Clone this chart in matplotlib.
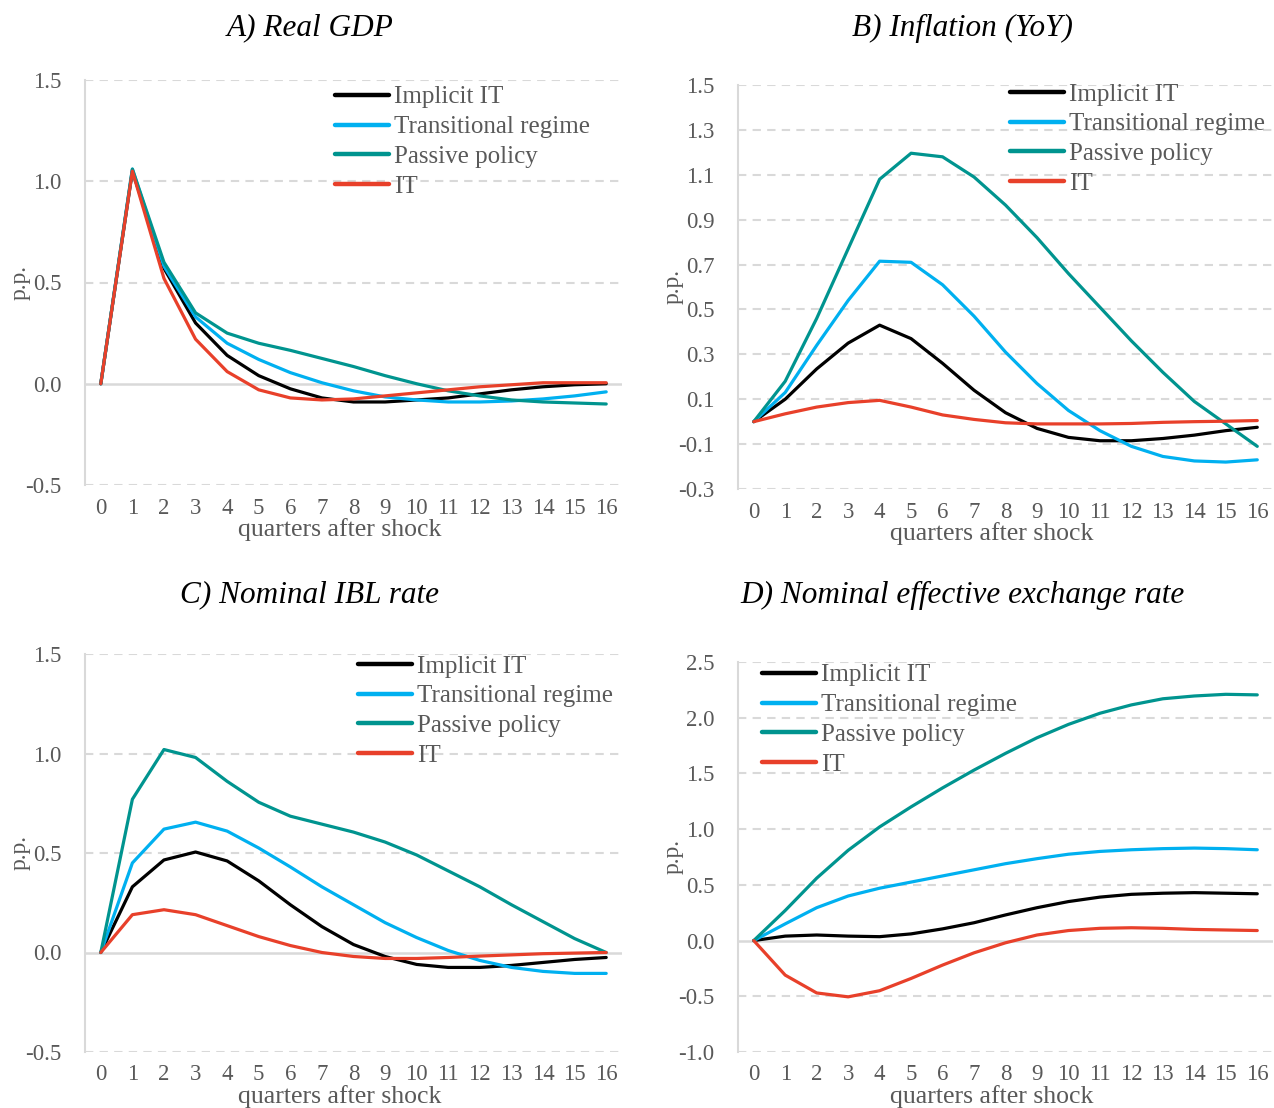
import matplotlib
matplotlib.use("Agg")
import matplotlib.pyplot as plt

plt.rcParams['font.family'] = ['Liberation Serif', 'DejaVu Serif']

W, H = 1274, 1108

quarters = list(range(17))
series_names = ['Implicit IT', 'Transitional regime', 'Passive policy', 'IT']
colors = ['#000000', '#00B0F0', '#00948F', '#E8402A']

# A) Real GDP
gdp_implicit = [0, 1.05, 0.57, 0.30, 0.14, 0.04, -0.025, -0.07, -0.09, -0.09, -0.08, -0.07, -0.05, -0.03, -0.015, -0.005, 0.0]
gdp_trans = [0, 1.06, 0.58, 0.33, 0.20, 0.12, 0.055, 0.005, -0.035, -0.065, -0.08, -0.09, -0.09, -0.085, -0.075, -0.06, -0.04]
gdp_passive = [0, 1.06, 0.60, 0.35, 0.25, 0.20, 0.165, 0.125, 0.085, 0.04, 0.0, -0.035, -0.06, -0.08, -0.09, -0.095, -0.10]
gdp_it = [0, 1.05, 0.52, 0.22, 0.06, -0.03, -0.07, -0.08, -0.075, -0.06, -0.045, -0.03, -0.015, -0.005, 0.005, 0.005, 0.005]

# B) Inflation (YoY)
inf_implicit = [0, 0.10, 0.235, 0.35, 0.43, 0.37, 0.26, 0.14, 0.04, -0.03, -0.07, -0.085, -0.085, -0.075, -0.06, -0.04, -0.025]
inf_trans = [0, 0.13, 0.34, 0.54, 0.715, 0.71, 0.61, 0.47, 0.31, 0.17, 0.05, -0.04, -0.11, -0.155, -0.175, -0.18, -0.17]
inf_passive = [0, 0.18, 0.46, 0.77, 1.08, 1.196, 1.18, 1.09, 0.965, 0.82, 0.66, 0.51, 0.36, 0.22, 0.09, -0.01, -0.11]
inf_it = [0, 0.035, 0.065, 0.085, 0.095, 0.065, 0.03, 0.01, -0.005, -0.01, -0.01, -0.01, -0.008, -0.003, 0.0, 0.002, 0.005]

# C) Nominal IBL rate
ibl_implicit = [0, 0.33, 0.465, 0.505, 0.46, 0.36, 0.24, 0.13, 0.04, -0.02, -0.06, -0.075, -0.075, -0.065, -0.05, -0.035, -0.025]
ibl_trans = [0, 0.45, 0.62, 0.655, 0.61, 0.525, 0.43, 0.33, 0.24, 0.15, 0.075, 0.01, -0.04, -0.075, -0.095, -0.105, -0.105]
ibl_passive = [0, 0.77, 1.02, 0.98, 0.86, 0.755, 0.685, 0.645, 0.605, 0.555, 0.49, 0.41, 0.33, 0.24, 0.155, 0.07, 0.0]
ibl_it = [0, 0.19, 0.215, 0.19, 0.135, 0.08, 0.035, 0.0, -0.02, -0.03, -0.03, -0.025, -0.018, -0.012, -0.006, -0.003, 0.0]

# D) Nominal effective exchange rate
fx_implicit = [0, 0.04, 0.05, 0.04, 0.035, 0.06, 0.105, 0.16, 0.23, 0.295, 0.35, 0.39, 0.415, 0.425, 0.43, 0.425, 0.42]
fx_trans = [0, 0.15, 0.295, 0.40, 0.47, 0.525, 0.58, 0.635, 0.69, 0.735, 0.775, 0.80, 0.815, 0.825, 0.83, 0.825, 0.815]
fx_passive = [0, 0.27, 0.56, 0.81, 1.02, 1.20, 1.37, 1.53, 1.68, 1.82, 1.94, 2.04, 2.115, 2.17, 2.195, 2.21, 2.205]
fx_it = [0, -0.31, -0.47, -0.505, -0.45, -0.34, -0.22, -0.11, -0.02, 0.05, 0.09, 0.11, 0.115, 0.11, 0.10, 0.095, 0.09]

panels = [
    dict(title='A) Real GDP', data=[gdp_implicit, gdp_trans, gdp_passive, gdp_it],
         box=(85, 80, 622, 485), ylim=(-0.5, 1.5), step=0.5, fmt='%.1f',
         tx=310, ty=28, leg=(335, 86)),
    dict(title='B) Inflation (YoY)', data=[inf_implicit, inf_trans, inf_passive, inf_it],
         box=(738, 85, 1273, 489), ylim=(-0.3, 1.5), step=0.2, fmt='%.1f',
         tx=962, ty=28, leg=(1010, 83)),
    dict(title='C) Nominal IBL rate', data=[ibl_implicit, ibl_trans, ibl_passive, ibl_it],
         box=(85, 654, 622, 1052), ylim=(-0.5, 1.5), step=0.5, fmt='%.1f',
         tx=310, ty=595, leg=(358, 655)),
    dict(title='D) Nominal effective exchange rate', data=[fx_implicit, fx_trans, fx_passive, fx_it],
         box=(738, 662, 1273, 1052), ylim=(-1.0, 2.5), step=0.5, fmt='%.1f',
         tx=962, ty=595, leg=(762, 664)),
]

fig = plt.figure(figsize=(W / 100, H / 100), dpi=100)
grey = '#595959'
grid_c = '#D9D9D9'

for p in panels:
    x0, y0, x1, y1 = p['box']
    ax = fig.add_axes([x0 / W, 1 - y1 / H, (x1 - x0) / W, (y1 - y0) / H])
    for vals, name, c in zip(p['data'], series_names, colors):
        ax.plot(quarters, vals, color=c, lw=2.3, label=name, solid_capstyle='round', zorder=3)
    lo, hi = p['ylim']
    n = int(round((hi - lo) / p['step']))
    ticks = [lo + i * p['step'] for i in range(n + 1)]
    ax.set_ylim(lo, hi)
    ax.set_xlim(-0.5, 16.5)
    ax.set_yticks(ticks)
    ax.set_yticklabels([p['fmt'] % t for t in ticks])
    ax.set_xticks(quarters)
    ax.set_xticklabels([str(q) for q in quarters])
    for t in ticks:
        if abs(t) < 1e-9:
            ax.axhline(0, color=grid_c, lw=1.8, zorder=1)
        else:
            ax.axhline(t, color=grid_c, lw=1.5, ls=(0, (4, 3)), zorder=1)
    for s in ['top', 'right', 'bottom']:
        ax.spines[s].set_visible(False)
    ax.spines['left'].set_color(grid_c)
    ax.spines['left'].set_linewidth(1.5)
    ax.tick_params(length=0, labelsize=16.5, colors=grey)
    ax.tick_params(axis='y', pad=17)
    ax.tick_params(axis='x', pad=9)
    lx, ly = p['leg']
    ax.legend(loc='upper left', bbox_to_anchor=((lx - x0) / (x1 - x0), (y1 - ly) / (y1 - y0)),
              frameon=False, fontsize=18, handlelength=2.15, handletextpad=0.2,
              labelspacing=0.29, borderpad=0, borderaxespad=0, labelcolor=grey)
    for line in ax.get_legend().get_lines():
        line.set_linewidth(3.2)
    fig.text(p['tx'] / W, 1 - p['ty'] / H, p['title'], fontsize=22.5, style='italic',
             ha='center', va='center', color='#000000')
    fig.text((x0 - 65) / W, 1 - ((y0 + y1) / 2) / H, 'p.p.', rotation=90, fontsize=17,
             ha='center', va='center', color=grey)
    fig.text((x0 + 0.475 * (x1 - x0)) / W, 1 - (y1 + 45) / H, 'quarters after shock',
             fontsize=18.5, ha='center', va='center', color=grey)

fig.savefig('out.png', dpi=100)
